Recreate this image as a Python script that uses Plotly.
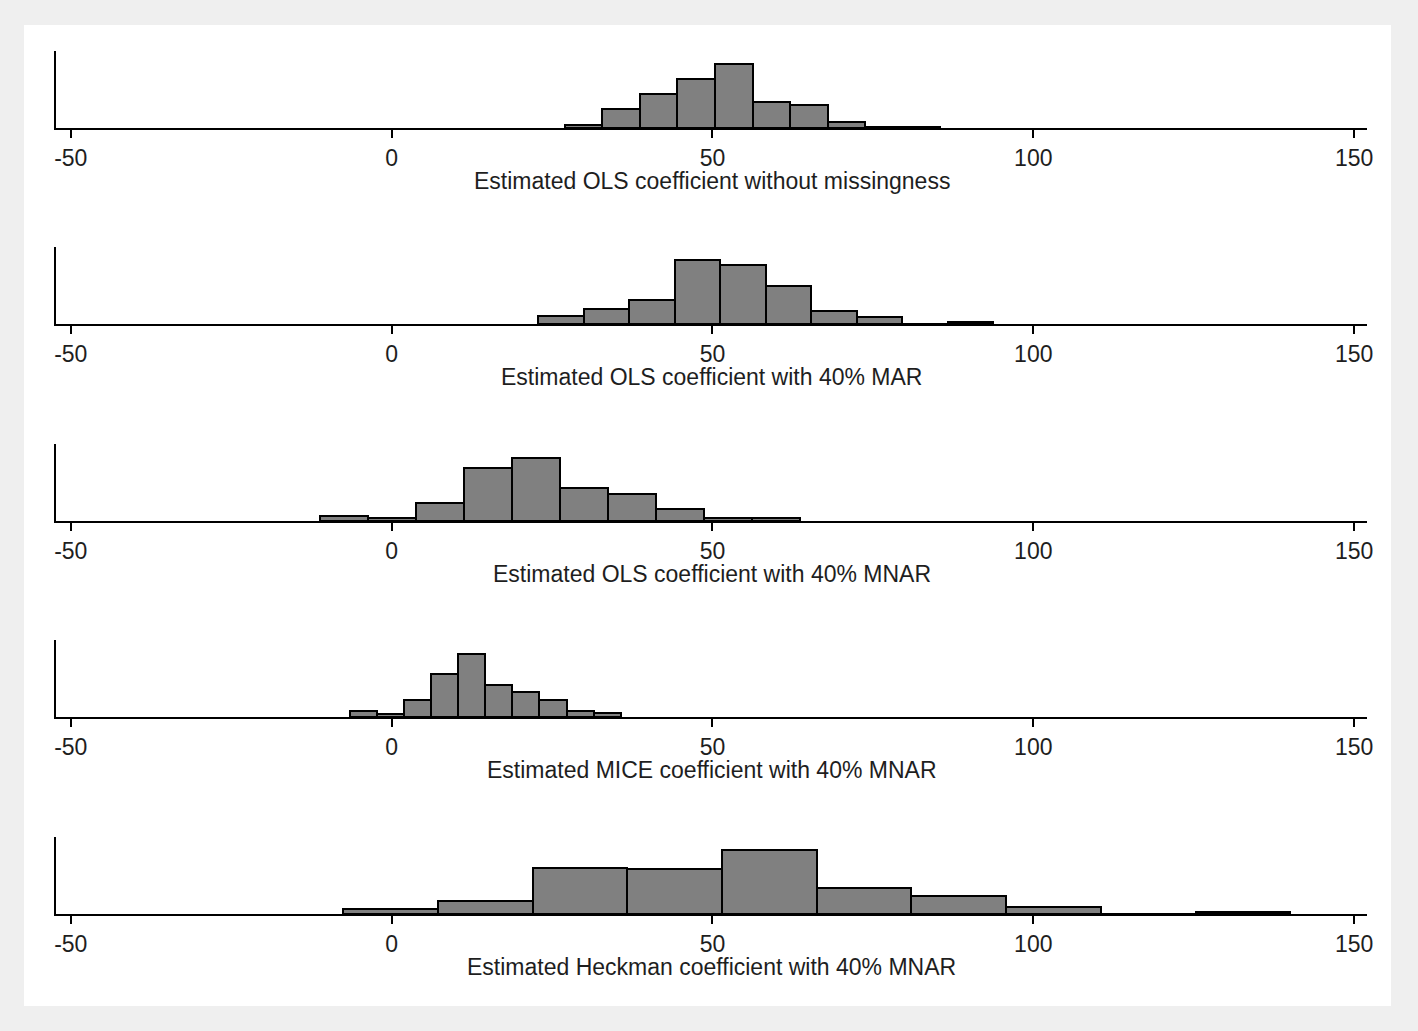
import plotly.graph_objects as go

W, H = 1418, 1031

titles = [
    "Estimated OLS coefficient without missingness",
    "Estimated OLS coefficient with 40% MAR",
    "Estimated OLS coefficient with 40% MNAR",
    "Estimated MICE coefficient with 40% MNAR",
    "Estimated Heckman coefficient with 40% MNAR",
]

# bin lower edge and bin width for each histogram
bin_start = [27.0, 22.85, -11.2, -6.5, -7.55]
bin_width = [5.85, 7.09, 7.49, 4.22, 14.76]

# bar heights (relative frequency, arbitrary units)
heights_ols_full = [2.6, 19.3, 34.3, 49.0, 64.0, 26.0, 22.6, 6.3, 1.0, 1.0]
heights_ols_mar = [8.3, 14.7, 24.3, 64.3, 59.3, 38.0, 13.0, 6.7, 0.0, 1.7]
heights_ols_mnar = [5.0, 3.0, 18.0, 53.0, 63.0, 33.0, 26.7, 11.7, 2.7, 3.0]
heights_mice_mnar = [5.7, 3.3, 16.7, 43.3, 63.3, 31.7, 25.0, 16.7, 5.7, 4.0]
heights_heck_mnar = [4.7, 13.0, 45.7, 45.3, 64.0, 25.7, 18.0, 6.7, 0.0, 2.3]

heights = [heights_ols_full, heights_ols_mar, heights_ols_mnar,
           heights_mice_mnar, heights_heck_mnar]

tick_vals = [-50, 0, 50, 100, 150]
tick_text = ["-50", "0", "50", "100", "150"]

# layout geometry (pixels)
ML, MR, MT, MB = 56, 51, 51, 117
plot_h = H - MT - MB
baselines_px = [128, 324, 521, 717, 914]
panel_h = 77

def ypaper(px):
    return (H - MB - px) / plot_h

font_family = "Liberation Sans, Arial, sans-serif"
txt_color = "#1e1e1e"
FS = 23

fig = go.Figure()
layout = dict(
    width=W, height=H,
    paper_bgcolor="#efefef",
    plot_bgcolor="rgba(0,0,0,0)",
    margin=dict(l=ML, r=MR, t=MT, b=MB),
    showlegend=False,
    bargap=0,
    font=dict(family=font_family, color=txt_color, size=FS),
)

annotations = []
for i in range(5):
    n = i + 1
    xa = "x" if n == 1 else f"x{n}"
    ya = "y" if n == 1 else f"y{n}"
    centers = [bin_start[i] + bin_width[i] * (k + 0.5) for k in range(len(heights[i]))]
    fig.add_trace(go.Bar(
        x=centers, y=heights[i], width=[bin_width[i]] * len(heights[i]),
        xaxis=xa, yaxis=ya,
        marker=dict(color="#808080", line=dict(color="#000000", width=2)),
        hoverinfo="skip",
    ))
    b = baselines_px[i]
    dom = [ypaper(b), ypaper(b - panel_h)]
    xkey = "xaxis" if n == 1 else f"xaxis{n}"
    ykey = "yaxis" if n == 1 else f"yaxis{n}"
    layout[xkey] = dict(
        domain=[0, 1], anchor=ya, range=[-52.3, 152.0],
        showline=True, linecolor="#000000", linewidth=2,
        ticks="outside", ticklen=8, tickwidth=1.5, tickcolor="#000000",
        tickvals=tick_vals, ticktext=tick_text,
        tickfont=dict(size=FS, family=font_family, color=txt_color),
        showgrid=False, zeroline=False, fixedrange=True,
    )
    layout[ykey] = dict(
        domain=dom, anchor=xa, range=[0, 77],
        showline=True, linecolor="#000000", linewidth=2,
        showticklabels=False, ticks="", showgrid=False, zeroline=False,
        fixedrange=True,
    )
    annotations.append(dict(
        text=titles[i], xref="paper", yref="paper",
        x=0.5, y=ypaper(b + 53), xanchor="center", yanchor="middle",
        showarrow=False, font=dict(size=FS, family=font_family, color=txt_color),
    ))

layout["annotations"] = annotations
# white inner panel
x0 = (24 - ML) / (W - ML - MR)
x1 = (1391 - ML) / (W - ML - MR)
layout["shapes"] = [dict(
    type="rect", xref="paper", yref="paper", layer="below",
    x0=x0, x1=x1, y0=ypaper(1006), y1=ypaper(25),
    fillcolor="#ffffff", line=dict(width=0),
)]

fig.update_layout(**layout)
fig.write_html(
    "out.html",
    config={"displayModeBar": False},
    post_script="document.body.style.margin='0';document.body.style.background='#efefef';",
)
